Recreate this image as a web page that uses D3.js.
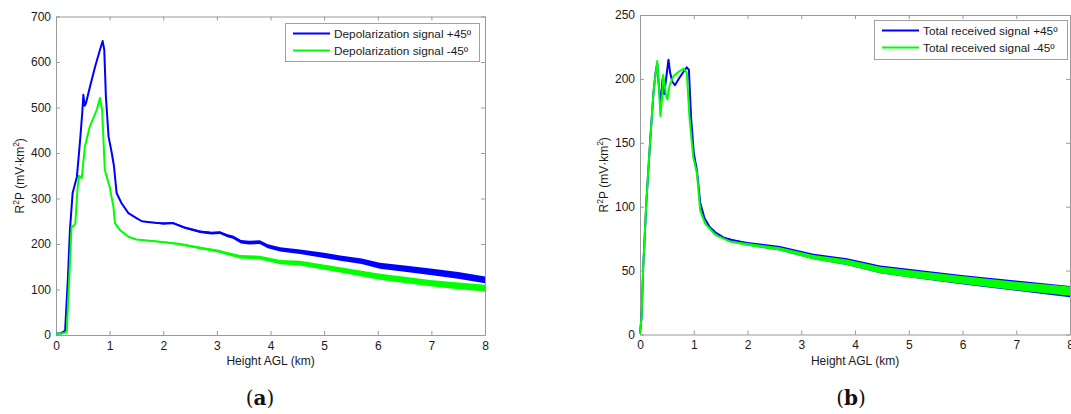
<!DOCTYPE html>
<html>
<head>
<meta charset="utf-8">
<script src="https://cdn.jsdelivr.net/npm/d3@7"></script>
<style>
  body { margin: 0; background: #fff; }
  svg { display: block; font-family: "Liberation Sans", Arial, sans-serif; }
  .tick text { fill: #1a1a1a; font-size: 12px; }
  .domain, .tick line { stroke: #9a9a9a; }
</style>
</head>
<body>
<script>
// [height km, R2P]
const depolPlus45 = [
  [0, 3], [0.1, 4], [0.17, 10], [0.22, 120], [0.26, 231], [0.31, 312], [0.39, 348],
  [0.45, 429], [0.49, 489], [0.51, 528], [0.535, 504], [0.56, 510], [0.63, 544],
  [0.73, 590], [0.82, 627], [0.87, 646], [0.9, 627], [0.93, 525], [0.98, 436],
  [1.04, 400], [1.08, 372], [1.1, 348], [1.13, 312], [1.22, 290], [1.35, 268],
  [1.5, 257], [1.6, 250], [1.75, 248], [2.0, 245], [2.18, 246], [2.4, 236],
  [2.69, 227], [2.9, 224], [3.06, 225], [3.2, 218], [3.3, 215], [3.45, 205],
  [3.6, 203], [3.8, 204], [3.95, 195], [4.18, 188], [4.55, 183], [5.0, 175],
  [5.3, 169], [5.7, 162], [6.04, 152], [6.5, 146], [6.98, 139], [7.5, 131], [8.0, 121]
];
const depolMinus45 = [
  [0, 3], [0.1, 3], [0.2, 6], [0.26, 158], [0.29, 238], [0.33, 240], [0.36, 245],
  [0.4, 320], [0.43, 350], [0.46, 347], [0.48, 345], [0.54, 415], [0.63, 458],
  [0.76, 495], [0.82, 521], [0.86, 495], [0.91, 363], [1.0, 326], [1.07, 282],
  [1.1, 246], [1.19, 231], [1.35, 216], [1.5, 210], [1.94, 205], [2.3, 200],
  [2.69, 191], [3.0, 185], [3.43, 172], [3.8, 170], [4.18, 160], [4.55, 158],
  [5.3, 143], [6.04, 128], [6.5, 121], [6.98, 114], [7.5, 108], [8.0, 103]
];
const totalPlus45 = [
  [0, 1], [0.03, 14], [0.06, 53], [0.12, 105], [0.19, 152], [0.25, 189], [0.29, 205],
  [0.32, 212], [0.35, 195], [0.38, 180], [0.42, 200], [0.45, 188], [0.5, 205],
  [0.53, 215], [0.56, 205], [0.6, 198], [0.65, 195], [0.72, 200], [0.8, 205],
  [0.87, 209], [0.91, 207], [0.95, 170], [1.0, 142], [1.06, 128], [1.12, 103],
  [1.2, 91], [1.3, 84], [1.4, 80], [1.55, 76], [1.7, 74], [2.0, 71], [2.6, 67.5],
  [3.23, 61], [3.85, 57], [4.47, 51], [5.03, 48], [6.02, 42.7], [7.04, 38], [8.0, 33.5]
];
const totalMinus45 = [
  [0, 1], [0.03, 14], [0.06, 53], [0.12, 105], [0.19, 152], [0.25, 189], [0.28, 200],
  [0.32, 214], [0.35, 195], [0.38, 171], [0.41, 185], [0.43, 203], [0.46, 195],
  [0.49, 186], [0.51, 184], [0.55, 195], [0.62, 202], [0.7, 205], [0.81, 208],
  [0.87, 205], [0.92, 170], [0.99, 139], [1.06, 126], [1.12, 97], [1.21, 87],
  [1.4, 78], [1.68, 72.7], [2.0, 70.5], [2.6, 67], [3.23, 60.5], [3.85, 56.5],
  [4.47, 50.5], [5.03, 47.5], [6.02, 42.5], [7.04, 37.8], [8.0, 34]
];

// half width of the noise band, [height km, R2P]
const depolNoise = [[1.4, 0], [2, 2], [3, 3], [4, 4.5], [5, 5.5], [6, 6.5], [7, 7], [8, 7.5]];
const totalNoisePlus = [[1.4, 0], [2, 1.3], [3, 2], [4, 2.8], [5, 3.3], [6, 3.6], [7, 4], [8, 4.4]];
const totalNoiseMinus = [[1.4, 0], [2, 1], [3, 1.6], [4, 2.3], [5, 2.8], [6, 3], [7, 3.3], [8, 3.6]];

const heightTicks = [0, 1, 2, 3, 4, 5, 6, 7, 8];
const depolTicks = [0, 100, 200, 300, 400, 500, 600, 700];
const totalTicks = [0, 50, 100, 150, 200, 250];

const panels = [
  {
    left: 56, right: 485, top: 16.5, bottom: 335, yMax: 700, yTicks: depolTicks,
    caption: "a", captionX: 260,
    legend: { x: 285, y: 23, w: 194, h: 38 },
    series: [
      { name: "Depolarization signal +45º", color: "#0000ff", values: depolPlus45, noise: depolNoise },
      { name: "Depolarization signal -45º", color: "#00ff00", values: depolMinus45, noise: depolNoise }
    ]
  },
  {
    left: 640, right: 1070, top: 15, bottom: 334.5, yMax: 250, yTicks: totalTicks,
    caption: "b", captionX: 851,
    legend: { x: 874, y: 20, w: 193, h: 39 },
    series: [
      { name: "Total received signal +45º", color: "#0000ff", values: totalPlus45, noise: totalNoisePlus },
      { name: "Total received signal -45º", color: "#00ff00", values: totalMinus45, noise: totalNoiseMinus }
    ]
  }
];

const svg = d3.select("body").append("svg")
  .attr("width", 1071)
  .attr("height", 414);

function drawPanel(p) {
  let x = d3.scaleLinear().domain([0, 8]).range([p.left, p.right]);
  let y = d3.scaleLinear().domain([0, p.yMax]).range([p.bottom, p.top]);
  let g = svg.append("g");

  // box with inward ticks on all four sides
  g.append("g")
    .attr("transform", `translate(0,${p.bottom})`)
    .call(d3.axisBottom(x).tickValues(heightTicks).tickSizeInner(-4).tickSizeOuter(0).tickPadding(6));
  g.append("g")
    .attr("transform", `translate(0,${p.top})`)
    .call(d3.axisTop(x).tickValues(heightTicks).tickSizeInner(-4).tickSizeOuter(0).tickFormat(""));
  g.append("g")
    .attr("transform", `translate(${p.left},0)`)
    .call(d3.axisLeft(y).tickValues(p.yTicks).tickSizeInner(-4).tickSizeOuter(0).tickPadding(5));
  g.append("g")
    .attr("transform", `translate(${p.right},0)`)
    .call(d3.axisRight(y).tickValues(p.yTicks).tickSizeInner(-4).tickSizeOuter(0).tickFormat(""));

  p.series.forEach(s => {
    let spread = d3.scaleLinear()
      .domain(s.noise.map(d => d[0]))
      .range(s.noise.map(d => d[1]))
      .clamp(true);

    g.append("path")
      .datum(s.values)
      .attr("fill", s.color)
      .attr("d", d3.area()
        .x(d => x(d[0]))
        .y0(d => y(d[1] - spread(d[0])))
        .y1(d => y(d[1] + spread(d[0]))));

    g.append("path")
      .datum(s.values)
      .attr("fill", "none")
      .attr("stroke", s.color)
      .attr("stroke-width", 2)
      .attr("stroke-linejoin", "round")
      .attr("d", d3.line().x(d => x(d[0])).y(d => y(d[1])));
  });

  // axis labels
  g.append("text")
    .attr("x", (p.left + p.right) / 2)
    .attr("y", p.bottom + 30)
    .attr("text-anchor", "middle")
    .attr("font-size", 12)
    .attr("fill", "#1a1a1a")
    .text("Height AGL (km)");

  let yl = g.append("text")
    .attr("transform", `translate(${p.left - 32},${(p.top + p.bottom) / 2}) rotate(-90)`)
    .attr("text-anchor", "middle")
    .attr("font-size", 12)
    .attr("fill", "#1a1a1a");
  yl.append("tspan").text("R");
  yl.append("tspan").attr("font-size", 8.5).attr("dy", -5).text("2");
  yl.append("tspan").attr("dy", 5).text("P (mV·km");
  yl.append("tspan").attr("font-size", 8.5).attr("dy", -5).text("2");
  yl.append("tspan").attr("dy", 5).text(")");

  // legend
  let lg = g.append("g").attr("transform", `translate(${p.legend.x},${p.legend.y})`);
  lg.append("rect")
    .attr("x", 0.5).attr("y", 0.5)
    .attr("width", p.legend.w).attr("height", p.legend.h)
    .attr("fill", "#fff")
    .attr("stroke", "#a0a0a0");
  p.series.forEach((s, i) => {
    let ly = 10.5 + i * 17;
    lg.append("line")
      .attr("x1", 8).attr("x2", 45)
      .attr("y1", ly).attr("y2", ly)
      .attr("stroke", s.color)
      .attr("stroke-width", 2);
    lg.append("text")
      .attr("x", 49).attr("y", ly + 4)
      .attr("font-size", 11.8)
      .attr("fill", "#1a1a1a")
      .text(s.name);
  });

  // sub caption
  let cap = svg.append("text")
    .attr("x", p.captionX)
    .attr("y", 405)
    .attr("text-anchor", "middle")
    .attr("font-family", "'DejaVu Serif', 'Liberation Serif', serif")
    .attr("font-size", 20)
    .attr("fill", "#111");
  cap.append("tspan").text("(");
  cap.append("tspan").attr("font-weight", "bold").text(p.caption);
  cap.append("tspan").text(")");
}

panels.forEach(drawPanel);
</script>
</body>
</html>
